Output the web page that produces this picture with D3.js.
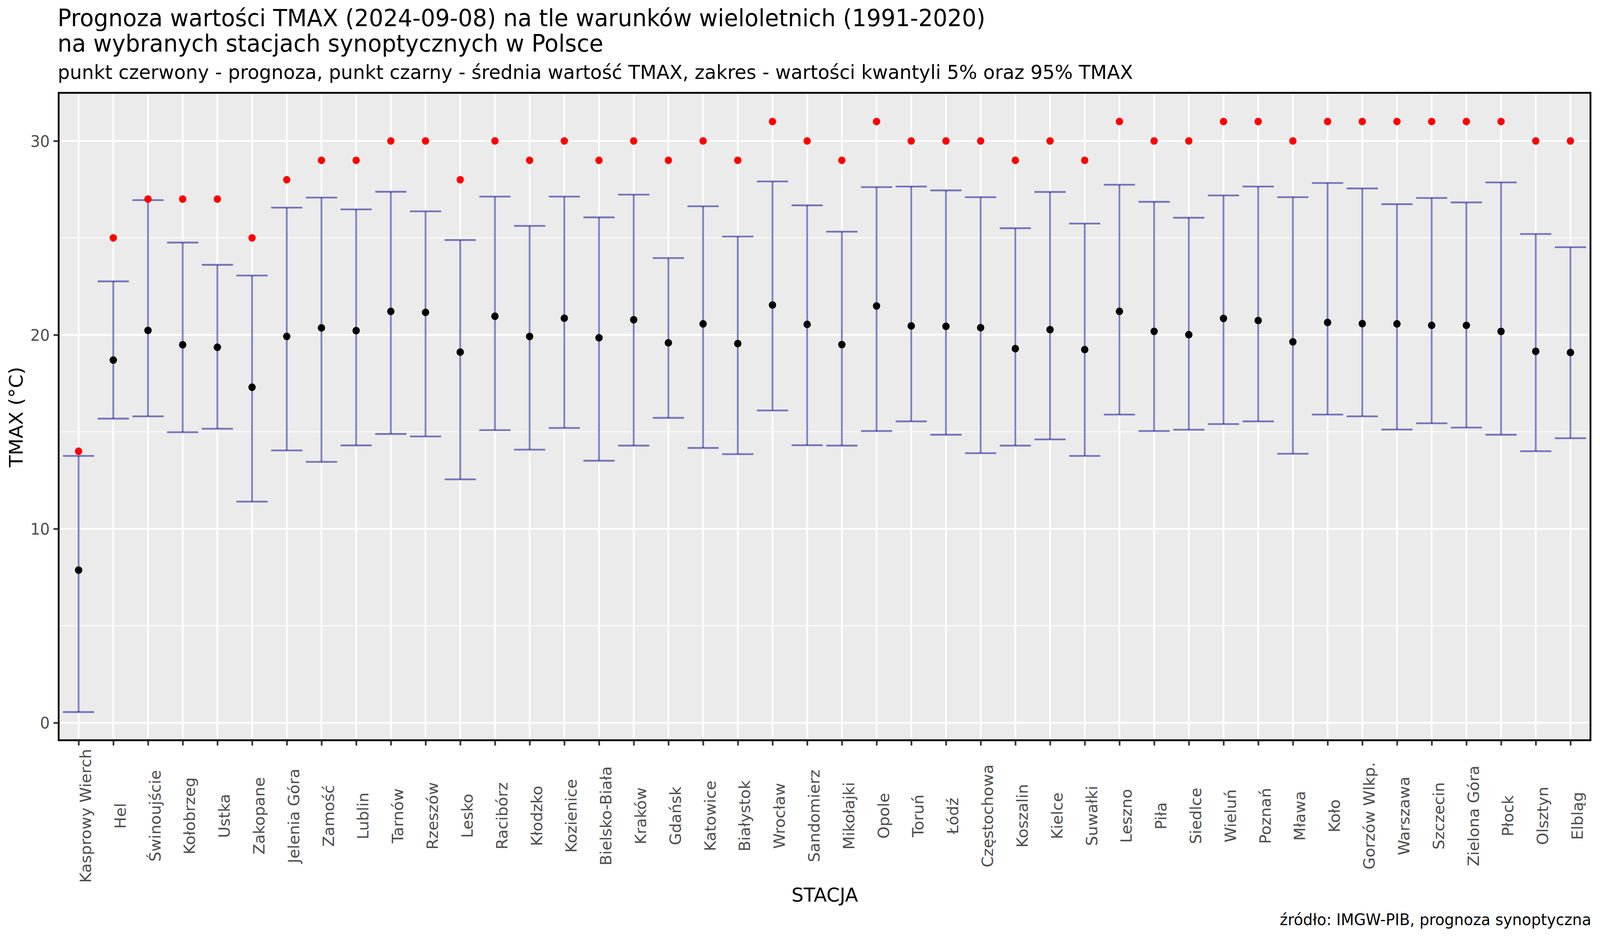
<!DOCTYPE html>
<html><head><meta charset="utf-8">
<script src="https://cdn.jsdelivr.net/npm/d3@7/dist/d3.min.js"></script>
<style>html,body{margin:0;padding:0;background:#fff;width:100%;height:100%;overflow:hidden}svg{display:block;width:100vw;height:100vh}text{font-family:"DejaVu Sans",sans-serif}</style>
</head><body><svg id="c" viewBox="0 0 4200 2400" preserveAspectRatio="none"></svg>
<script>
const stations = ["Kasprowy Wierch","Hel","Świnoujście","Kołobrzeg","Ustka","Zakopane","Jelenia Góra","Zamość","Lublin","Tarnów","Rzeszów","Lesko","Racibórz","Kłodzko","Kozienice","Bielsko-Biała","Kraków","Gdańsk","Katowice","Białystok","Wrocław","Sandomierz","Mikołajki","Opole","Toruń","Łódź","Częstochowa","Koszalin","Kielce","Suwałki","Leszno","Piła","Siedlce","Wieluń","Poznań","Mława","Koło","Gorzów Wlkp.","Warszawa","Szczecin","Zielona Góra","Płock","Olsztyn","Elbląg"];
const forecast = [14,25,27,27,27,25,28,29,29,30,30,28,30,29,30,29,30,29,30,29,31,30,29,31,30,30,30,29,30,29,31,30,30,31,31,30,31,31,31,31,31,31,30,30];
const meanTmax = [7.87,18.70,20.23,19.49,19.36,17.30,19.92,20.36,20.22,21.21,21.16,19.11,20.96,19.92,20.86,19.85,20.78,19.59,20.57,19.55,21.54,20.54,19.50,21.49,20.46,20.44,20.37,19.29,20.27,19.24,21.21,20.18,20.01,20.85,20.74,19.64,20.64,20.58,20.57,20.49,20.49,20.18,19.15,19.09];
const q95 = [13.76,22.76,26.95,24.76,23.61,23.06,26.56,27.08,26.47,27.38,26.37,24.89,27.13,25.62,27.13,26.06,27.23,23.96,26.63,25.07,27.91,26.68,25.32,27.62,27.65,27.45,27.10,25.50,27.37,25.74,27.74,26.86,26.04,27.19,27.65,27.10,27.83,27.55,26.74,27.06,26.83,27.86,25.20,24.52];
const q05 = [0.55,15.68,15.80,14.98,15.16,11.40,14.04,13.45,14.30,14.89,14.76,12.55,15.09,14.08,15.20,13.51,14.29,15.72,14.17,13.85,16.10,14.31,14.29,15.04,15.54,14.85,13.90,14.29,14.61,13.76,15.89,15.04,15.11,15.40,15.54,13.87,15.89,15.80,15.12,15.44,15.22,14.85,14.00,14.67];
const yMajor = [0,10,20,30];
const yMinor = [5,15,25];
const titleLines = ["Prognoza wartości TMAX (2024-09-08) na tle warunków wieloletnich (1991-2020)","na wybranych stacjach synoptycznych w Polsce"];
const subtitle = "punkt czerwony - prognoza, punkt czarny - średnia wartość TMAX, zakres - wartości kwantyli 5% oraz 95% TMAX";
const caption = "źródło: IMGW-PIB, prognoza synoptyczna";
const xTitle = "STACJA", yTitle = "TMAX (°C)";

const P = {l:154, r:4175, t:237.5, b:1894};
const x = d3.scalePoint().domain(stations).range([206.3,4122.4]);
const y = d3.scaleLinear().domain([0,30]).range([1849.2,360.6]);
const capW = 0.9*x.step();
const svg = d3.select("#c");
const rows = stations.map((s,i)=>({s,f:forecast[i],m:meanTmax[i],hi:q95[i],lo:q05[i]}));

svg.append("rect").attr("x",P.l).attr("y",P.t).attr("width",P.r-P.l).attr("height",P.b-P.t).attr("fill","#EBEBEB");
const grid = svg.append("g").attr("stroke","#fff").attr("fill","none");
grid.selectAll(".mn").data(yMinor).join("line").attr("x1",P.l).attr("x2",P.r).attr("y1",d=>y(d)).attr("y2",d=>y(d)).attr("stroke-width",2.22);
grid.selectAll(".mj").data(yMajor).join("line").attr("x1",P.l).attr("x2",P.r).attr("y1",d=>y(d)).attr("y2",d=>y(d)).attr("stroke-width",4.44);
grid.selectAll(".v").data(stations).join("line").attr("x1",d=>x(d)).attr("x2",d=>x(d)).attr("y1",P.t).attr("y2",P.b).attr("stroke-width",4.44);

const bar = "#00008B", barOp = 0.5, barW = 4.6;
const eb = svg.append("g").attr("stroke",bar).attr("stroke-opacity",barOp).attr("stroke-width",barW).attr("fill","none");
eb.selectAll(".stem").data(rows).join("line").attr("x1",d=>x(d.s)).attr("x2",d=>x(d.s)).attr("y1",d=>y(d.hi)).attr("y2",d=>y(d.lo));
eb.selectAll(".top").data(rows).join("line").attr("x1",d=>x(d.s)-capW/2).attr("x2",d=>x(d.s)+capW/2).attr("y1",d=>y(d.hi)).attr("y2",d=>y(d.hi));
eb.selectAll(".bot").data(rows).join("line").attr("x1",d=>x(d.s)-capW/2).attr("x2",d=>x(d.s)+capW/2).attr("y1",d=>y(d.lo)).attr("y2",d=>y(d.lo));

svg.append("g").selectAll("circle").data(rows).join("circle").attr("cx",d=>x(d.s)).attr("cy",d=>y(d.m)).attr("r",9.7).attr("fill","#000");
svg.append("g").selectAll("circle").data(rows).join("circle").attr("cx",d=>x(d.s)).attr("cy",d=>y(d.f)).attr("r",9.7).attr("fill","#f00");

svg.append("rect").attr("x",P.l).attr("y",P.t).attr("width",P.r-P.l).attr("height",P.b-P.t).attr("fill","none").attr("stroke","#000").attr("stroke-width",4.7);

const tickLen = 11.5;
const ax = svg.append("g").attr("transform",`translate(0,${P.b+2})`).call(d3.axisBottom(x).tickSize(tickLen).tickPadding(0));
ax.select(".domain").remove();
ax.selectAll(".tick line").attr("stroke","#333").attr("stroke-width",4.44);
ax.selectAll(".tick text").attr("fill","#4D4D4D").attr("font-size",40).attr("text-anchor","middle")
  .attr("transform",`translate(32,${2087.5-P.b-2}) rotate(-90)`).attr("x",0).attr("y",0).attr("dy",0);
const ay = svg.append("g").attr("transform",`translate(${P.l-2},0)`).call(d3.axisLeft(y).tickValues(yMajor).tickSize(tickLen).tickPadding(10).tickFormat(d3.format("d")));
ay.select(".domain").remove();
ay.selectAll(".tick line").attr("stroke","#333").attr("stroke-width",4.44);
ay.selectAll(".tick text").attr("fill","#4D4D4D").attr("font-size",40).attr("dy","0.36em");

const titleBase = [66.7,132.3];
svg.append("g").selectAll("text").data(titleLines).join("text").attr("x",151).attr("y",(d,i)=>titleBase[i]).attr("font-size",60).attr("fill","#000").text(d=>d);
svg.append("text").attr("x",151.5).attr("y",201.7).attr("font-size",50).attr("fill","#000").text(subtitle);
svg.append("text").attr("x",2165).attr("y",2307).attr("text-anchor","middle").attr("font-size",50).attr("fill","#000").text(xTitle);
svg.append("text").attr("transform",`translate(59.5,1067) rotate(-90)`).attr("text-anchor","middle").attr("font-size",50).attr("fill","#000").text(yTitle);
svg.append("text").attr("x",P.r+2).attr("y",2367).attr("text-anchor","end").attr("font-size",40).attr("fill","#000").text(caption);
</script></body></html>
